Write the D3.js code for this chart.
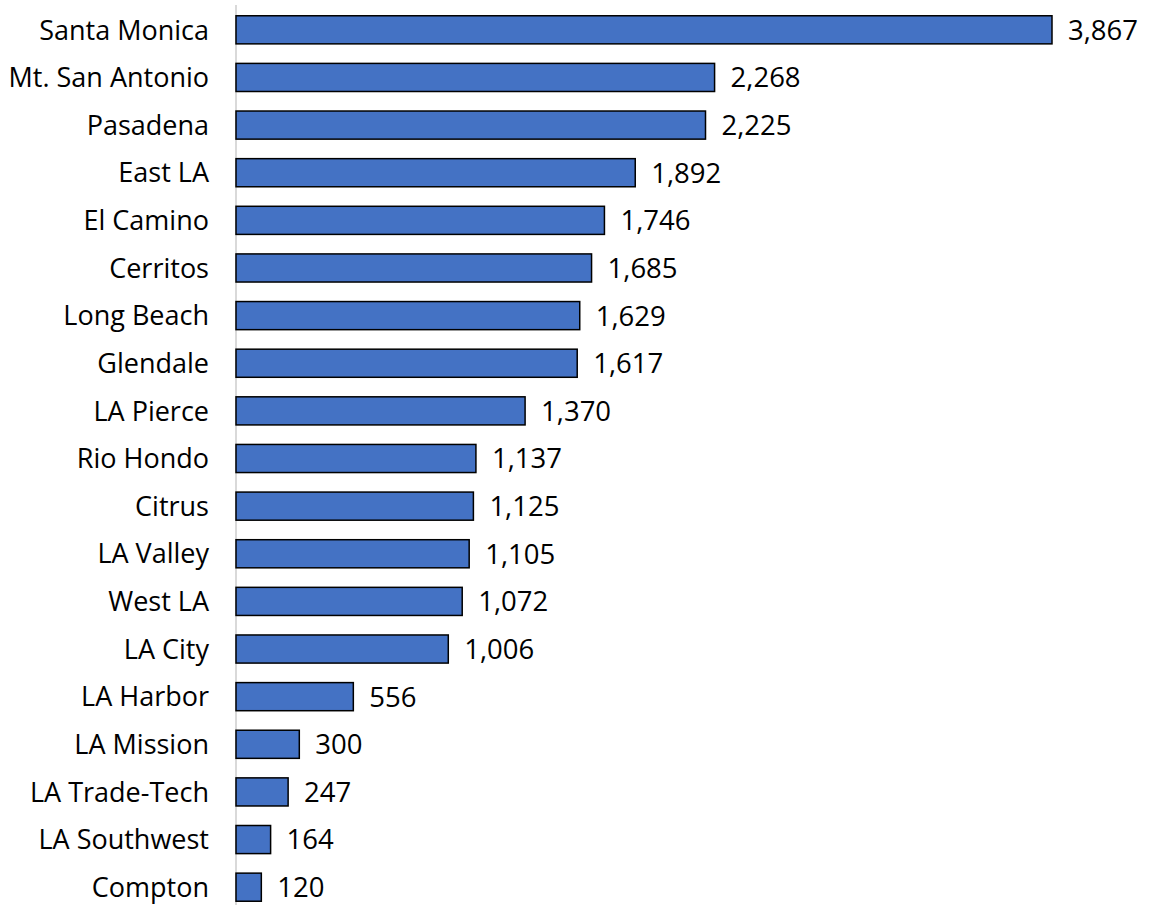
<!DOCTYPE html>
<html><head><meta charset="utf-8">
<script src="https://cdn.jsdelivr.net/npm/d3@7"></script>
<style>body{margin:0;background:#fff;} svg{display:block;}</style>
</head><body>
<svg id="chart" width="1157" height="905"></svg>
<script>
const categories = ["Santa Monica","Mt. San Antonio","Pasadena","East LA","El Camino","Cerritos","Long Beach","Glendale","LA Pierce","Rio Hondo","Citrus","LA Valley","West LA","LA City","LA Harbor","LA Mission","LA Trade-Tech","LA Southwest","Compton"];
const values = [3867,2268,2225,1892,1746,1685,1629,1617,1370,1137,1125,1105,1072,1006,556,300,247,164,120];

const svg = d3.select("#chart");
const x0 = 236;
const font = "'Century Gothic', 'Open Sans', sans-serif";
const x = d3.scaleLinear().domain([0, 3867]).range([x0, 1052]);
const y = d3.scaleBand().domain(categories).range([6, 911]).paddingInner(0.41).paddingOuter(0.205);

svg.append("line").attr("x1", x0).attr("x2", x0).attr("y1", 5).attr("y2", 905)
  .attr("stroke", "#d9d9d9").attr("stroke-width", 2);

const data = categories.map((c, i) => ({c, v: values[i]}));
svg.selectAll("rect.bar").data(data).enter().append("rect")
  .attr("class", "bar")
  .attr("x", x(0)).attr("y", d => y(d.c))
  .attr("width", d => x(d.v) - x(0)).attr("height", y.bandwidth())
  .attr("fill", "#4472C4").attr("stroke", "#000").attr("stroke-width", 1.5);

svg.selectAll("text.val").data(data).enter().append("text")
  .attr("class", "val")
  .attr("x", d => x(d.v) + 16).attr("y", d => y(d.c) + y.bandwidth() / 2)
  .attr("dy", "0.36em").attr("font-family", font).attr("font-size", 27.5).attr("fill", "#000")
  .text(d => d3.format(",")(d.v));

svg.selectAll("text.cat").data(data).enter().append("text")
  .attr("class", "cat")
  .attr("x", 209).attr("y", d => y(d.c) + y.bandwidth() / 2)
  .attr("dy", "0.36em").attr("text-anchor", "end")
  .attr("font-family", font).attr("font-size", 27).attr("fill", "#000")
  .text(d => d.c);
</script>
</body></html>
